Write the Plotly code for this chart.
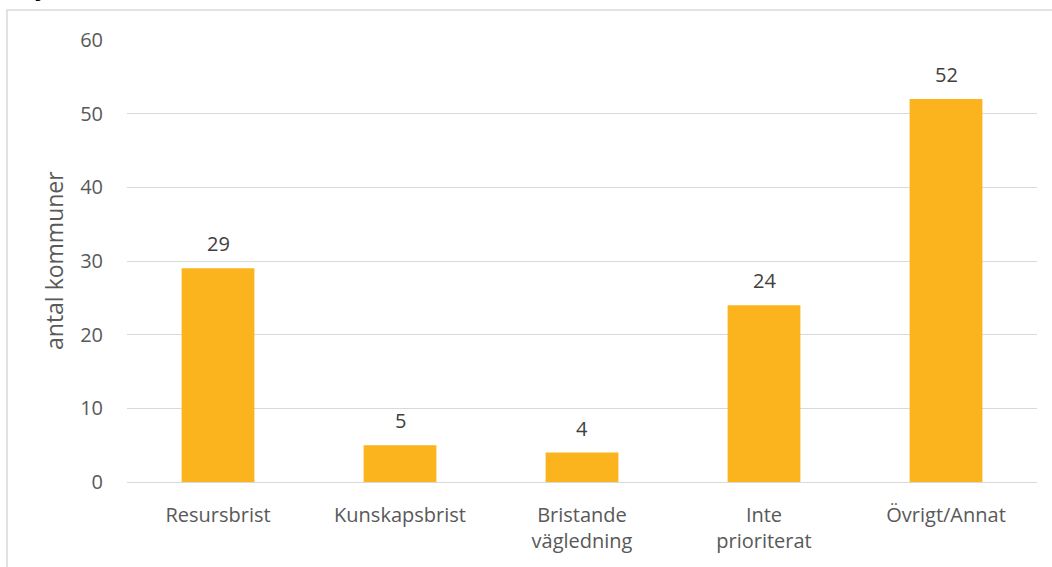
import plotly.graph_objects as go

categories = ["Resursbrist", "Kunskapsbrist", "Bristande<br>vägledning", "Inte<br>prioriterat", "Övrigt/Annat"]
values = [29, 5, 4, 24, 52]
y_ticks = [0, 10, 20, 30, 40, 50, 60]
y_title = "antal kommuner"

W, H = 1052, 567
L, R, T, B = 127, 15, 40, 85
pw, ph = W - L - R, H - T - B

FONT = "Open Sans, Lato, sans-serif"
GREY = "#595959"

fig = go.Figure(go.Bar(
    x=categories, y=values,
    marker=dict(color="#FCB41E", line=dict(width=0)),
    hoverinfo="x+y",
))

# data labels
for c, v in zip(categories, values):
    fig.add_annotation(x=c, y=v, xref="x", yref="y", text=str(v), showarrow=False,
                       yanchor="bottom", yshift=9,
                       font=dict(family=FONT, size=20, color="#404040"))

fig.update_layout(
    width=W, height=H,
    margin=dict(l=L, r=R, t=T, b=B, autoexpand=False),
    paper_bgcolor="white", plot_bgcolor="white",
    bargap=0.6, showlegend=False,
    font=dict(family=FONT, color=GREY),
    xaxis=dict(showgrid=False, showline=False, ticks="", automargin=False,
               tickfont=dict(size=20, color=GREY), ticklabelstandoff=19),
    yaxis=dict(range=[0, 60], tickvals=y_ticks, showgrid=True, gridcolor="#D9D9D9", gridwidth=1.3,
               zeroline=True, zerolinecolor="#D9D9D9", zerolinewidth=1.3, automargin=False,
               ticks="", tickfont=dict(size=20, color=GREY), ticklabelstandoff=23),
)

# y-axis title
fig.add_annotation(xref="paper", yref="paper", x=(54 - L) / pw, y=0.5, text=y_title,
                   textangle=-90, showarrow=False, xanchor="center", yanchor="middle",
                   font=dict(family=FONT, size=23, color=GREY))

# outer chart-area border (partly cropped)
fig.add_shape(type="rect", xref="paper", yref="paper",
              x0=(7 - L) / pw, x1=(W + 20 - L) / pw,
              y0=-(B + 20) / ph, y1=1 + (T - 10) / ph,
              line=dict(color="#D9D9D9", width=1.5), fillcolor="rgba(0,0,0,0)", layer="below")

# cropped title remnant at the very top edge
fig.add_annotation(xref="paper", yref="paper", x=(33 - L) / pw, y=1 + (T - 4) / ph,
                   xanchor="left", yanchor="bottom", text="<b>j</b>", showarrow=False,
                   font=dict(family=FONT, size=20, color="black"))

fig.write_html("out.html", config={"displayModeBar": False},
               post_script="document.body.style.margin='0';")
